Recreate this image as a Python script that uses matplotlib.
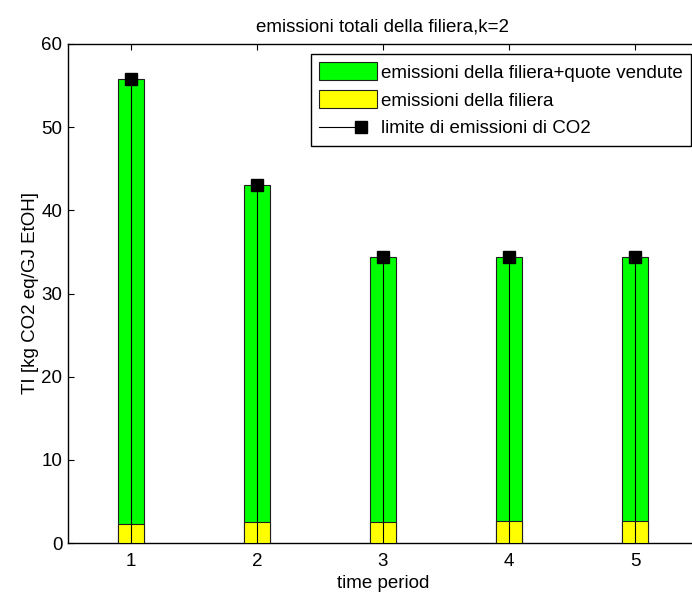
import numpy as np
import matplotlib.pyplot as plt
from matplotlib.patches import Patch
from matplotlib.lines import Line2D

plt.rcParams['font.family'] = ['Liberation Sans', 'DejaVu Sans']
plt.rcParams['font.size'] = 13.5

periods = [1, 2, 3, 4, 5]
total_with_quotas = [55.8, 43.0, 34.4, 34.4, 34.4]   # emissioni della filiera+quote vendute
chain_emissions = [2.3, 2.5, 2.5, 2.6, 2.6]          # emissioni della filiera
co2_limit = [55.8, 43.0, 34.4, 34.4, 34.4]           # limite di emissioni di CO2


class LineMarkerHandler:
    # line with the square marker towards its right end, like MATLAB legends
    def legend_artist(self, legend, orig_handle, fontsize, handlebox):
        x0, y0 = handlebox.xdescent, handlebox.ydescent
        w, h = handlebox.width, handlebox.height
        yc = h / 2 - y0
        line = Line2D([-x0, -x0 + 0.72 * w], [yc, yc], color='black', linewidth=0.8)
        mk = Line2D([-x0 + 0.72 * w], [yc], marker='s', markersize=8, color='black', linestyle='none')
        handlebox.add_artist(line)
        handlebox.add_artist(mk)
        return line


fig = plt.figure(figsize=(6.92, 5.92), dpi=100)
ax = fig.add_axes([68 / 692, 49 / 592, 630 / 692, 499 / 592])

w = 0.21
ax.bar(periods, total_with_quotas, width=w, color='#00ff00', edgecolor='#202020', linewidth=0.8, zorder=2)
ax.bar(periods, chain_emissions, width=w, color='#ffff00', edgecolor='#202020', linewidth=0.8, zorder=3)
ax.vlines(periods, 0, co2_limit, colors='black', linewidth=0.8, zorder=4)
ax.plot(periods, co2_limit, linestyle='none', marker='s', markersize=9, color='black', zorder=5)

ax.set_xlim(0.5, 5.5)
ax.set_ylim(0, 60)
ax.set_xticks(periods)
ax.set_yticks(np.arange(0, 61, 10))
ax.tick_params(direction='in', top=True, right=True, length=4, width=0.8, labelsize=13.5)
ax.tick_params(axis='x', pad=7)
ax.tick_params(axis='y', pad=4)
for s in ax.spines.values():
    s.set_linewidth(1.0)

ax.set_title('emissioni totali della filiera,k=2', fontsize=13.5, pad=9)
ax.set_xlabel('time period', fontsize=13.5, labelpad=4)
ax.set_ylabel('TI [kg CO2 eq/GJ EtOH]', fontsize=13.5, labelpad=2)

handles = [
    Patch(facecolor='#00ff00', edgecolor='#202020', linewidth=0.8),
    Patch(facecolor='#ffff00', edgecolor='#202020', linewidth=0.8),
    Line2D([0], [0], color='black', linewidth=0.8, marker='s', markersize=8),
]
labels = ['emissioni della filiera+quote vendute', 'emissioni della filiera', 'limite di emissioni di CO2']
leg = ax.legend(handles, labels, loc='upper right', bbox_to_anchor=(1 - 7 / 630, 1 - 10 / 499),
                fancybox=False, edgecolor='black', framealpha=1, fontsize=13.5,
                handlelength=3.1, handleheight=1.1, handletextpad=0.2, borderaxespad=0,
                labelspacing=0.45, borderpad=0.45,
                handler_map={handles[2]: LineMarkerHandler()})
leg.get_frame().set_linewidth(1.0)

fig.savefig('out.png', dpi=100)
